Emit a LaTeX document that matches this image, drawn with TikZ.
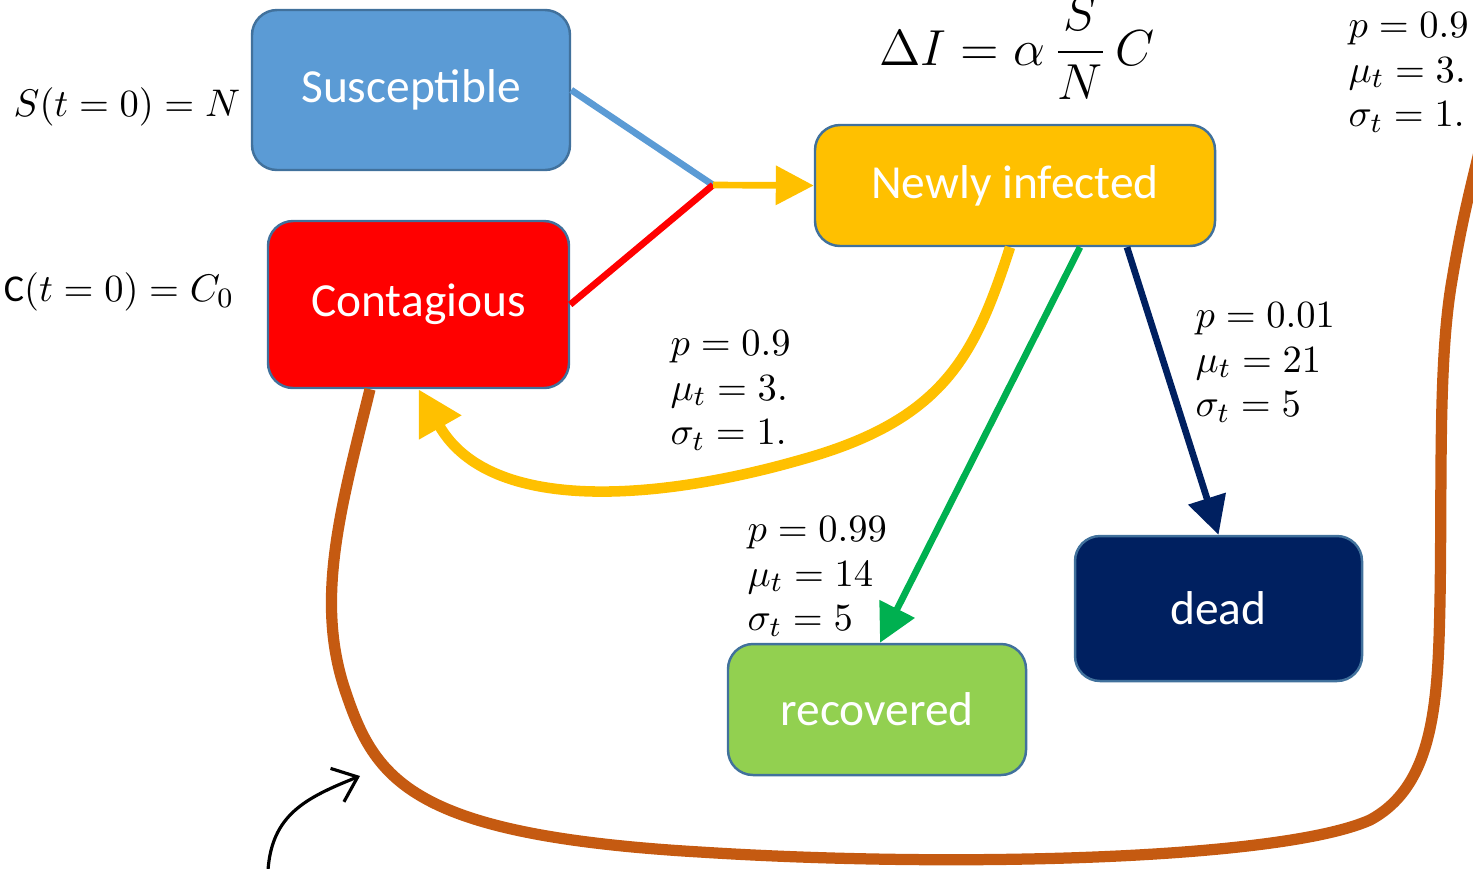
\documentclass[tikz,border=0pt]{standalone}
\usepackage[no-math]{fontspec}
\setmainfont{Carlito}
\usepackage{amsmath}
\usepackage{tikz}
\usetikzlibrary{positioning, arrows.meta, calc}

\definecolor{suscblue}{HTML}{5B9BD5}
\definecolor{edgeblue}{HTML}{41719C}
\definecolor{infyellow}{HTML}{FFC000}
\definecolor{deadnavy}{HTML}{002060}
\definecolor{recovgreen}{HTML}{92D050}
\definecolor{flowgreen}{HTML}{00B050}
\definecolor{loopbrown}{HTML}{C55A11}

\begin{document}
\begin{tikzpicture}[
  box/.style={draw=edgeblue, line width=0.7pt, rounded corners=0.25cm, text=white,
    font=\fontsize{13.5}{16}\selectfont, align=center, inner sep=0pt},
  param/.style={align=left, inner sep=0pt, anchor=north west,
    font=\fontsize{11}{12.7}\selectfont},
  start/.style={font=\fontsize{10.8}{13}\selectfont, inner sep=0pt},
  flow/.style={line width=1.9pt, -{Triangle[length=3.8mm, width=3.8mm]}}
]
\clip (0,0) rectangle (14.73,-8.68);

% compartments
\node[box, fill=suscblue, minimum width=3.18cm, minimum height=1.60cm] (susc) at (4.11,-0.90) {Susceptible};
\node[box, fill=red, minimum width=3.01cm, minimum height=1.67cm] (cont) at (4.185,-3.045) {Contagious};
\node[box, fill=infyellow, minimum width=4.00cm, minimum height=1.21cm] (newinf) at (10.15,-1.855) {Newly infected};
\node[box, fill=deadnavy, minimum width=2.87cm, minimum height=1.45cm] (dead) at (12.185,-6.085) {dead};
\node[box, fill=recovgreen, minimum width=2.98cm, minimum height=1.31cm] (recov) at (8.77,-7.095) {recovered};

% initial values and rate
\node[start] (suscinit) at (1.27,-1.07) {$S(t=0)=N$};
\node[start] (continit) at (1.19,-2.92) {C$(t=0)=C_0$};
\node[font=\fontsize{14.5}{17}\selectfont, inner sep=0pt] (rate) at (10.17,-0.48)
  {$\displaystyle \Delta I = \alpha\,\frac{S}{N}\,C$};

% delay parameters
\node[param] (parcont) at (6.70,-3.30) {$p=0.9$\\$\mu_t=3.$\\$\sigma_t=1.$};
\node[param] (pardead) at (11.95,-3.02) {$p=0.01$\\$\mu_t=21$\\$\sigma_t=5$};
\node[param] (parrecov) at (7.47,-5.16) {$p=0.99$\\$\mu_t=14$\\$\sigma_t=5$};
\node[param] (parloop) at (13.48,-0.12) {$p=0.9$\\$\mu_t=3.$\\$\sigma_t=1.$};

% infection
\coordinate (junc) at (7.13,-1.85);
\draw[suscblue, line width=1.9pt] (susc.east) -- (junc);
\draw[red, line width=1.9pt] (cont.east) -- (junc);
\draw[flow, infyellow] (junc) -- (newinf.west);

% outcomes
\draw[infyellow, line width=3pt, -{Triangle[length=4.4mm, width=4.6mm]}]
  ([xshift=-0.05cm]newinf.south) .. controls (9.75,-3.55) and (9.45,-4.2) .. (8.0,-4.6)
  .. controls (6.6,-5.0) and (4.9,-5.15) .. (cont.south);
\draw[flow, flowgreen] ([xshift=0.65cm]newinf.south) -- ([xshift=0.03cm]recov.north);
\draw[flow, deadnavy] ([xshift=1.12cm]newinf.south) -- (dead.north);

% loop back
\draw[loopbrown, line width=3.2pt]
  ([xshift=-0.485cm]cont.south) .. controls (3.40,-5.1) and (3.15,-6.0) .. (3.45,-6.9)
  .. controls (3.75,-7.8) and (4.1,-8.35) .. (7.0,-8.52)
  .. controls (9.5,-8.68) and (12.8,-8.6) .. (13.7,-8.2)
  .. controls (14.35,-7.85) and (14.38,-7.0) .. (14.40,-6.0)
  .. controls (14.42,-4.8) and (14.38,-3.6) .. (14.52,-2.8)
  .. controls (14.62,-2.2) and (14.70,-1.9) .. (14.82,-1.4);

% pointer
\coordinate (ptrfoot) at (2.68,-8.70);
\coordinate (ptrtip) at (3.60,-7.76);
\draw[line width=0.9pt, -{Straight Barb[length=2.2mm, width=3.6mm]}]
  (ptrfoot) .. controls (2.72,-8.15) and (3.05,-7.98) .. (ptrtip);
\end{tikzpicture}
\end{document}
